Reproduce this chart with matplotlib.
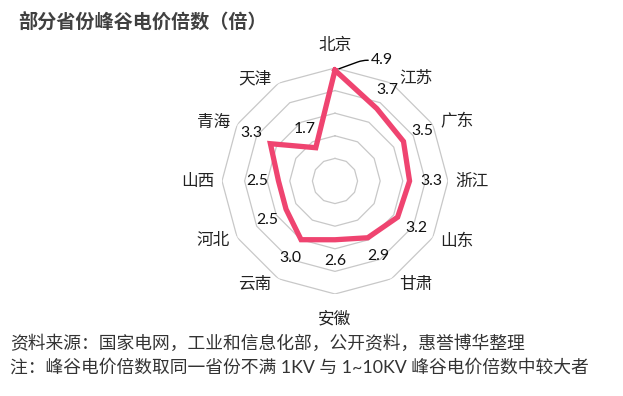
import numpy as np
import matplotlib
matplotlib.use("Agg")
from matplotlib import pyplot as plt

plt.rcParams['font.family'] = ['Lato', 'Noto Sans CJK SC', 'DejaVu Sans']

provinces = ['北京', '江苏', '广东', '浙江', '山东', '甘肃',
             '安徽', '云南', '河北', '山西', '青海', '天津']
ratios = [4.9, 3.7, 3.5, 3.3, 3.2, 2.9, 2.6, 3.0, 2.5, 2.5, 3.3, 1.7]
rings = [1, 2, 3, 4, 5]

title = '部分省份峰谷电价倍数（倍）'
source = '资料来源：国家电网，工业和信息化部，公开资料，惠誉博华整理'
note = '注：峰谷电价倍数取同一省份不满 1KV 与 1~10KV 峰谷电价倍数中较大者'

n = len(provinces)
theta = np.arange(n) * 2 * np.pi / n

fig = plt.figure(figsize=(6.23, 3.96), dpi=100)
ax = fig.add_axes([0.3563, 0.2576, 0.3628, 0.5707], projection='polar')
ax.set_theta_zero_location('N')
ax.set_theta_direction(-1)
ax.set_ylim(0, 5)
ax.grid(False)
ax.spines['polar'].set_visible(False)
ax.set_xticks([])
ax.set_yticks([])

# polygon rings
for r in rings:
    ax.plot(np.append(theta, theta[0]), [r] * (n + 1), color='#c8c8c8', lw=0.9, zorder=1)

ax.plot(np.append(theta, theta[0]), ratios + [ratios[0]], color='#ef4470', lw=3.8,
        solid_joinstyle='miter', zorder=3, clip_on=False)

# category labels, excel style: beside the outer vertex
for t, name in zip(theta, provinces):
    s, c = np.sin(t), np.cos(t)
    if abs(s) < 0.1:
        dx, dy = 0, (23 if c > 0 else -24)
    else:
        dx, dy = 24 * np.sign(s), 6 * c
    ax.annotate(name, xy=(t, 5), xytext=(dx, dy), textcoords='offset pixels',
                ha='center', va='center', fontsize=12, color='#222222')

# value labels
for i, (t, v) in enumerate(zip(theta, ratios)):
    if i == 0:
        ax.annotate(f'{v:.1f}', xy=(t, v), xytext=(36, 10), textcoords='offset pixels',
                    ha='left', va='center', fontsize=11.3, color='#111111',
                    arrowprops=dict(arrowstyle='-', color='black', lw=1,
                                    connectionstyle='angle,angleA=0,angleB=20,rad=5',
                                    shrinkA=0, shrinkB=3))
        continue
    ax.text(t, v + 0.95, f'{v:.1f}', ha='center', va='center', fontsize=11.3, color='#111111')

fig.text(0.029, 0.948, title, fontsize=13.8, fontweight='bold', color='#404040',
         ha='left', va='center')
fig.text(0.016, 0.134, source, fontsize=12.8, color='#333333', ha='left', va='center')
fig.text(0.016, 0.073, note, fontsize=12.8, color='#333333', ha='left', va='center')

fig.savefig('out.png', dpi=100)
